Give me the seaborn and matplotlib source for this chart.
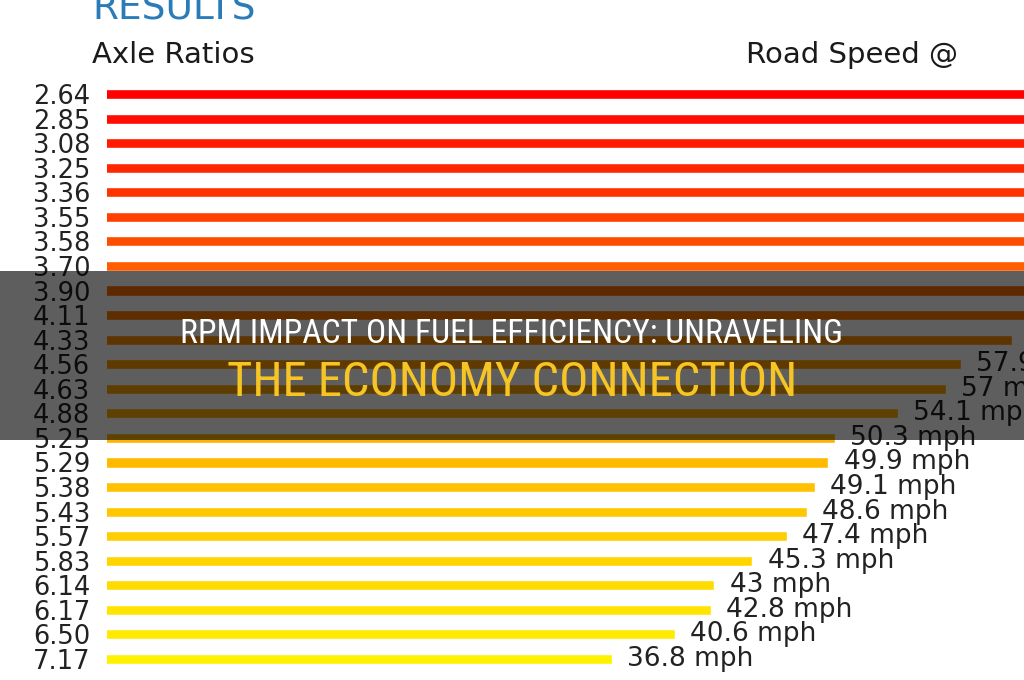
import matplotlib
matplotlib.use("Agg")
import matplotlib.pyplot as plt
import seaborn as sns
from matplotlib.colors import LinearSegmentedColormap
from matplotlib.patches import Rectangle

# valeurs (les barres du haut sont coupées a droite)
axle_ratios = ["2.64", "2.85", "3.08", "3.25", "3.36", "3.55", "3.58", "3.70",
               "3.90", "4.11", "4.33", "4.56", "4.63", "4.88", "5.25", "5.29",
               "5.38", "5.43", "5.57", "5.83", "6.14", "6.17", "6.50", "7.17"]
road_speed = [100.0, 92.6, 85.7, 81.2, 78.6, 74.4, 73.7, 71.4,
              67.7, 64.2, 61.0, 57.9, 57.0, 54.1, 50.3, 49.9,
              49.1, 48.6, 47.4, 45.3, 43.0, 42.8, 40.6, 36.8]

titre_1 = "RPM IMPACT ON FUEL EFFICIENCY: UNRAVELING"
titre_2 = "THE ECONOMY CONNECTION"

sns.set_style("white")
plt.rcParams['font.family'] = ['DejaVu Sans']

W, H = 1024, 680
fig = plt.figure(figsize=(W / 100, H / 100), dpi=100)

# axes placé en pixels : lignes de y=94 a y=659, barres a partir de x=107
row = (659 - 94) / 23
top_px = 94 - row / 2
bot_px = 659 + row / 2
ax = fig.add_axes([107 / W, 1 - bot_px / H, 1 - 107 / W, (bot_px - top_px) / H])

cmap = LinearSegmentedColormap.from_list("ry", ["#ff0000", "#ff4a00", "#ffa500", "#ffc800", "#fff200"])
couleurs = [cmap(i / (len(axle_ratios) - 1)) for i in range(len(axle_ratios))]

sns.barplot(x=road_speed, y=axle_ratios, hue=axle_ratios, palette=couleurs,
            legend=False, orient="h", width=0.41, saturation=1, ax=ax)

px_per_mph = 16.52
x0 = (107 - 4) / px_per_mph
ax.set_xlim(x0, x0 + (W - 107) / px_per_mph)
ax.set_ylim(len(axle_ratios) - 0.5, -0.5)
sns.despine(ax=ax, left=True, bottom=True)
ax.set_xticks([])
ax.set_xlabel("")
ax.set_ylabel("")
ax.tick_params(axis="y", length=0, pad=12, labelsize=18.5, labelcolor="#222222")

# étiquettes : celles dont la barre sort du cadre ne sont pas dessinées
for i, v in enumerate(road_speed):
    ax.annotate(f"{v:g} mph", xy=(v, i), xytext=(11, 0), textcoords="offset points",
                va="center", ha="left", fontsize=19, color="#222222")

# en-tetes
fig.text(92 / W, 1 - 19 / H, "RESULTS", color="#2a7cb9", fontsize=27, ha="left", va="baseline")
fig.text(92 / W, 1 - 55 / H, "Axle Ratios", color="#1a1a1a", fontsize=21, ha="left", va="center")
fig.text(746 / W, 1 - 55 / H, "Road Speed @", color="#1a1a1a", fontsize=21, ha="left", va="center")

# bandeau sombre
fig.patches.append(Rectangle((0, 1 - 440 / H), 1, (440 - 271) / H, transform=fig.transFigure,
                             facecolor="black", alpha=0.63, edgecolor="none", zorder=5))
narrow = ['Roboto Condensed', 'Liberation Sans Narrow', 'Liberation Sans']
fig.text(0.5, 1 - 334 / H, titre_1, color="white", fontsize=24.2, ha="center", va="center",
         family=narrow, zorder=6)
fig.text(0.5, 1 - 383 / H, titre_2, color="#f6c424", fontsize=35, ha="center", va="center",
         family=narrow, zorder=6)

fig.savefig("out.png", dpi=100)
